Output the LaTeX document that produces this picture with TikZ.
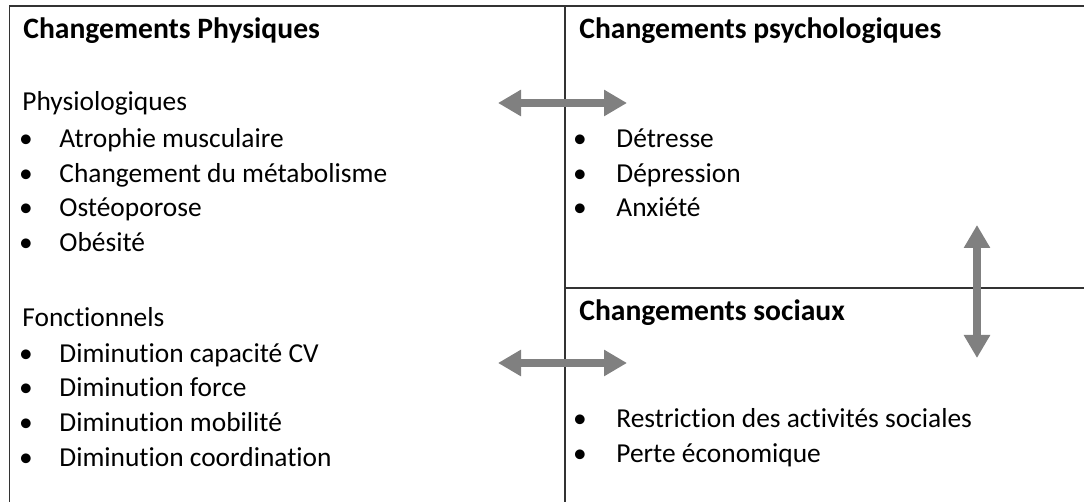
\documentclass[tikz,border=0pt]{standalone}
\usepackage{fontspec}
\setmainfont[Ligatures=NoCommon]{Carlito}
\usetikzlibrary{arrows.meta}
\newcommand\taille{\fontsize{13.7}{16}\selectfont}
\tikzset{
	titre/.style={anchor=base west,inner sep=0pt,font=\fontsize{14.8}{17}\selectfont\bfseries},
	texte/.style={anchor=base west,inner sep=0pt,font=\taille},
	puce/.style={anchor=base,inner sep=0pt,font=\taille},
	cadre/.style={draw=black!80,line width=.9pt},
	fleche/.style={draw=black!50,line width=4pt,{Triangle[length=11.5pt,width=12.5pt]}-{Triangle[length=11.5pt,width=12.5pt]}}
}
\begin{document}
\begin{tikzpicture}[x=.5pt,y=-.5pt]
	\useasboundingbox (0,0) rectangle (1084,502);
	% cadre
	\draw[cadre] (1084,6) -- (9.5,6) -- (9.5,502);
	\draw[cadre] (565,6) -- (565,502);
	\draw[cadre] (565,288) -- (1084,288);
	% changements physiques
	\node[titre] (tphys) at (23,39) {Changements Physiques};
	\node[texte] (physio) at (22,111) {Physiologiques};
	\foreach \y/\t [count=\i] in {148/Atrophie musculaire,183/Changement du métabolisme,217/Ostéoporose,252/Obésité}{
		\node[puce] (pp\i) at (26,\y) {•};
		\node[texte] (ph\i) at (59,\y) {\t};
	}
	\node[texte] (fonct) at (22,327) {Fonctionnels};
	\foreach \y/\t [count=\i] in {363/Diminution capacité CV,397/Diminution force,432/Diminution mobilité,467/Diminution coordination}{
		\node[puce] (pf\i) at (26,\y) {•};
		\node[texte] (fo\i) at (59,\y) {\t};
	}
	% changements psychologiques
	\node[titre] (tpsy) at (579,39) {Changements psychologiques};
	\foreach \y/\t [count=\i] in {148/Détresse,183/Dépression,217/Anxiété}{
		\node[puce] (ps\i) at (580,\y) {•};
		\node[texte] (psy\i) at (616,\y) {\t};
	}
	% changements sociaux
	\node[titre] (tsoc) at (579,321) {Changements sociaux};
	\foreach \y/\t [count=\i] in {428/Restriction des activités sociales,463/Perte économique}{
		\node[puce] (pso\i) at (580,\y) {•};
		\node[texte] (soc\i) at (616,\y) {\t};
	}
	% fleches
	\coordinate (h1a) at (498,103);
	\coordinate (h1b) at (627,103);
	\coordinate (h2a) at (498,363);
	\coordinate (h2b) at (627,363);
	\coordinate (v1a) at (977,225);
	\coordinate (v1b) at (977,358);
	\draw[fleche] (h1a) -- (h1b);
	\draw[fleche] (h2a) -- (h2b);
	\draw[fleche] (v1a) -- (v1b);
\end{tikzpicture}
\end{document}
